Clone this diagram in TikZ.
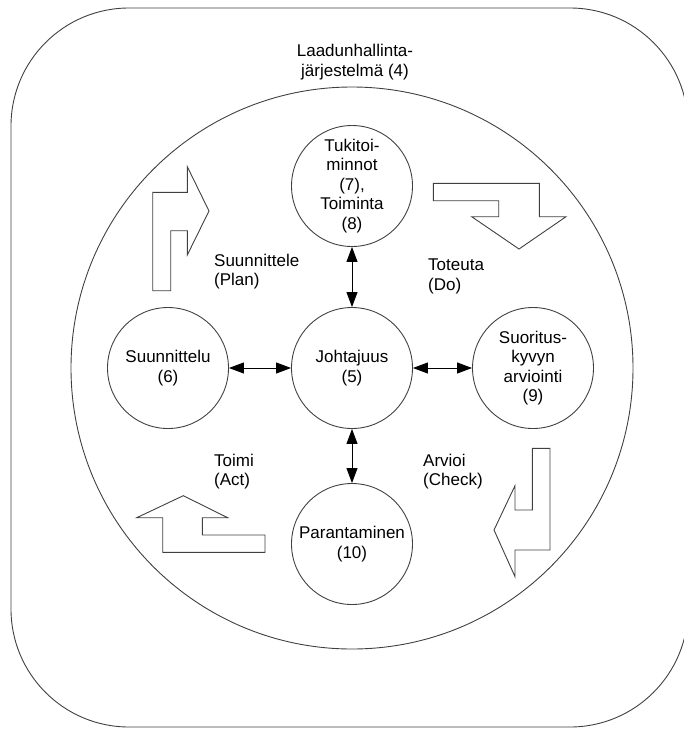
\documentclass[tikz,border=0pt]{standalone}
\usepackage{fontspec}
\setmainfont{Liberation Sans}
\usetikzlibrary{arrows.meta}

\begin{document}
\begin{tikzpicture}[x=1pt,y=-1pt,
	txt/.style={font=\fontsize{17}{19.5}\selectfont, align=center, inner sep=0pt},
	osa/.style={txt, draw=black!75, line width=0.9pt, circle, minimum size=121pt},
	nuoli/.style={draw=black!75, line width=0.9pt, line join=miter},
	yhteys/.style={<->, >={Triangle[length=15pt,width=11pt]}, line width=0.9pt}]
	%\draw[help lines] (0,0) grid (684,729);
	\useasboundingbox (0,0) rectangle (684,729);
	\begin{scope}
		\clip (0,0) rectangle (684,729);
		\draw[black!75, line width=0.9pt, rounded corners=118pt] (11,8) rectangle (688,727);
	\end{scope}
	\draw[black!75, line width=0.9pt] (352,368) circle[radius=281pt];
	\node[txt] (jarjestelma) at (355,62) {Laadunhallinta-\\järjestelmä (4)};
	
	%the five parts
	\node[osa] (johtajuus) at (352,368) {Johtajuus\\(5)};
	\node[osa] (tuki) at (352,186) {Tukitoi-\\minnot\\(7),\\Toiminta\\(8)};
	\node[osa] (suunnittelu) at (168,368) {Suunnittelu\\(6)};
	\node[osa] (suoritus) at (533,368) {Suoritus-\\kyvyn\\arviointi\\(9)};
	\node[osa] (parantaminen) at (352,544) {Parantaminen\\(10)};
	
	\draw[yhteys] (tuki) -- (johtajuus);
	\draw[yhteys] (suunnittelu) -- (johtajuus);
	\draw[yhteys] (johtajuus) -- (suoritus);
	\draw[yhteys] (johtajuus) -- (parantaminen);
	
	%PDCA labels
	\node[txt, align=left, anchor=west] (plan) at (214,271.5) {Suunnittele\\(Plan)};
	\node[txt, align=left, anchor=west] (do) at (428,276.5) {Toteuta\\(Do)};
	\node[txt, align=left, anchor=west] (act) at (214,471.5) {Toimi\\(Act)};
	\node[txt, align=left, anchor=west] (check) at (423,471.5) {Arvioi\\(Check)};
	
	%block arrows going round
	\draw[nuoli] (152.7,290.7) -- (152.7,192.3) -- (187.3,192.3) -- (187.3,166.7) -- (209,211) -- (187.3,255) -- (187.3,230.7) -- (170.7,230.7) -- (170.7,290.7) -- cycle;	%plan
	\draw[nuoli] (433.3,183.3) -- (539.3,183.3) -- (539.3,216.7) -- (566,216.7) -- (519,249) -- (471.7,216.7) -- (498.7,216.7) -- (498.7,200.7) -- (433.3,200.7) -- cycle;	%do
	\draw[nuoli] (532.3,448.3) -- (550,448.3) -- (550,550) -- (515,550) -- (515,576.7) -- (494,530) -- (515,485.7) -- (515,510) -- (532.3,510) -- cycle;	%check
	\draw[nuoli] (162.7,552.3) -- (162.7,517.7) -- (136.7,517.7) -- (183.3,495.7) -- (227.7,517.7) -- (202.3,517.7) -- (202.3,535) -- (265,535) -- (265,552.3) -- cycle;	%act
\end{tikzpicture}
\end{document}
